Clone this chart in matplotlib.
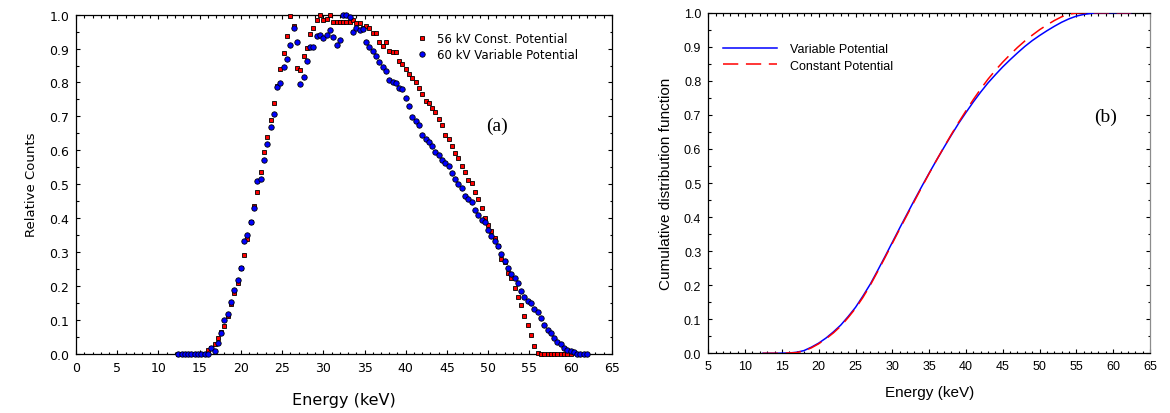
#!/usr/bin/env python3

import numpy as np
import matplotlib
matplotlib.use("Agg")
import matplotlib.pyplot as plt
from matplotlib.ticker import MultipleLocator, FormatStrFormatter


# =========================
# Data
# =========================
# detector bins, 0.4 keV wide
energy_var = np.round(np.arange(12.4, 62.01, 0.4), 1)
energy_const = np.round(np.arange(12.4, 60.01, 0.4), 1)

counts_var = [
    0, 0, 0, 0, 0, 0, 0, 0, 0,
    0.0, 0.017, 0.008, 0.032, 0.062, 0.098, 0.116, 0.152, 0.188, 0.217,
    0.254, 0.333, 0.349, 0.389, 0.430, 0.510, 0.516, 0.571, 0.618, 0.670,
    0.708, 0.786, 0.798, 0.846, 0.869, 0.911, 0.960, 0.918, 0.796, 0.815,
    0.863, 0.904, 0.904, 0.938, 0.940, 0.930, 0.941, 0.956, 0.933, 0.911,
    0.925, 0.998, 0.999, 0.992, 0.950, 0.961, 0.956, 0.958, 0.920, 0.904,
    0.894, 0.879, 0.861, 0.845, 0.835, 0.806, 0.801, 0.798, 0.785, 0.780,
    0.753, 0.732, 0.697, 0.687, 0.675, 0.645, 0.633, 0.625, 0.612, 0.595,
    0.587, 0.571, 0.564, 0.553, 0.533, 0.515, 0.501, 0.489, 0.466, 0.456,
    0.448, 0.425, 0.409, 0.395, 0.388, 0.366, 0.346, 0.332, 0.317, 0.295,
    0.274, 0.252, 0.235, 0.222, 0.209, 0.184, 0.167, 0.155, 0.149, 0.132,
    0.124, 0.105, 0.086, 0.070, 0.060, 0.045, 0.034, 0.029, 0.016, 0.012,
    0.009, 0.004, 0, 0, 0, 0,
]

counts_const = [
    0, 0, 0, 0, 0, 0, 0, 0, 0,
    0.010, 0.018, 0.028, 0.045, 0.065, 0.082, 0.112, 0.146, 0.178, 0.208,
    0.254, 0.292, 0.338, 0.389, 0.436, 0.478, 0.536, 0.594, 0.640, 0.689,
    0.740, 0.790, 0.839, 0.886, 0.938, 0.995, 0.966, 0.844, 0.836, 0.879,
    0.901, 0.942, 0.960, 0.984, 0.998, 0.983, 0.987, 0.998, 0.979, 0.978,
    0.979, 0.978, 0.978, 0.979, 0.983, 0.975, 0.975, 0.961, 0.966, 0.962,
    0.945, 0.945, 0.919, 0.907, 0.919, 0.894, 0.889, 0.889, 0.863, 0.854,
    0.840, 0.826, 0.812, 0.801, 0.784, 0.766, 0.745, 0.739, 0.724, 0.712,
    0.691, 0.675, 0.645, 0.633, 0.613, 0.592, 0.576, 0.553, 0.535, 0.513,
    0.503, 0.476, 0.456, 0.429, 0.400, 0.380, 0.363, 0.340, 0.317, 0.279,
    0.271, 0.238, 0.222, 0.193, 0.166, 0.143, 0.110, 0.084, 0.056, 0.022,
    0.003, 0, 0, 0, 0, 0, 0, 0, 0, 0, 0,
]

cdf_energy = [12.4, 14, 16, 17, 18, 19, 20, 21, 22, 23, 24, 25, 26, 27, 28,
              29, 30, 31, 32, 33, 34, 35, 36, 37, 38, 39, 40, 41, 42, 43,
              44, 45, 46, 47, 48, 49, 50, 51, 52, 53, 54, 55, 56, 57, 58, 62.4]

cdf_var = [0, 0, 0.001, 0.003, 0.008, 0.018, 0.030, 0.045, 0.063, 0.083,
           0.108, 0.135, 0.168, 0.203, 0.243, 0.284, 0.326, 0.368, 0.409,
           0.450, 0.490, 0.529, 0.567, 0.604, 0.640, 0.675, 0.707, 0.738,
           0.767, 0.794, 0.818, 0.841, 0.862, 0.882, 0.901, 0.918, 0.933,
           0.947, 0.960, 0.972, 0.982, 0.990, 0.995, 0.998, 1.0, 1.0]

cdf_const = [0, 0, 0.001, 0.002, 0.007, 0.016, 0.028, 0.043, 0.060, 0.080,
             0.105, 0.132, 0.164, 0.200, 0.240, 0.281, 0.323, 0.365, 0.406,
             0.447, 0.488, 0.528, 0.567, 0.605, 0.642, 0.678, 0.712, 0.745,
             0.776, 0.805, 0.831, 0.855, 0.877, 0.898, 0.917, 0.934, 0.950,
             0.964, 0.977, 0.988, 0.996, 0.999, 1.0, 1.0, 1.0, 1.0]


# =========================
# Helpers
# =========================
def style_axes(ax, xmin, xmax, family, tick_size):
    ax.set_xlim(xmin, xmax)
    ax.set_ylim(0, 1.0)
    ax.xaxis.set_major_locator(MultipleLocator(5))
    ax.xaxis.set_minor_locator(MultipleLocator(1))
    ax.yaxis.set_major_locator(MultipleLocator(0.1))
    ax.yaxis.set_minor_locator(MultipleLocator(0.05))
    ax.yaxis.set_major_formatter(FormatStrFormatter("%.1f"))
    ax.tick_params(which="both", direction="in", top=True, right=True,
                   width=0.8, labelsize=tick_size)
    ax.tick_params(which="major", length=3.2, pad=5)
    ax.tick_params(which="minor", length=1.8)
    for lab in ax.get_xticklabels() + ax.get_yticklabels():
        lab.set_fontfamily(family)
    for sp in ax.spines.values():
        sp.set_linewidth(0.9)


# =========================
# Main
# =========================
def main():
    plt.rcParams["font.family"] = ["Liberation Sans", "DejaVu Sans"]

    fig = plt.figure(figsize=(11.7, 4.14), dpi=100)
    ax_a = fig.add_axes([0.0650, 0.1432, 0.4579, 0.8189])
    ax_b = fig.add_axes([0.6054, 0.1442, 0.3775, 0.8227])

    # (a) spectra
    ax_a.plot(energy_const, counts_const, ls="none", marker="s", ms=3.5,
              mfc="#ff0000", mec="black", mew=0.6,
              label="56 kV Const. Potential", clip_on=False, zorder=3)
    ax_a.plot(energy_var, counts_var, ls="none", marker="o", ms=3.9,
              mfc="#0000ff", mec="black", mew=0.6,
              label="60 kV Variable Potential", clip_on=False, zorder=4)
    style_axes(ax_a, 0, 65, "DejaVu Sans", 9)
    ax_a.set_xlabel("Energy (keV)", family="DejaVu Sans", fontsize=11.5,
                    labelpad=13)
    ax_a.set_ylabel("Relative Counts", family="DejaVu Sans", fontsize=9.5,
                    labelpad=8)
    ax_a.legend(loc="upper left", bbox_to_anchor=(0.635, 0.95),
                frameon=False, handlelength=1.0, handletextpad=0.8,
                labelspacing=0.3, borderpad=0, borderaxespad=0,
                prop={"family": "DejaVu Sans", "size": 8.5})
    ax_a.text(0.786, 0.675, "(a)", transform=ax_a.transAxes, ha="center",
              va="center", family="Liberation Serif", fontsize=14)

    # (b) cumulative distributions
    ax_b.plot(cdf_energy, cdf_var, color="#0000ff", lw=1.1,
              label="Variable Potential", zorder=3)
    ax_b.plot(cdf_energy, cdf_const, color="#ff0000", lw=1.1,
              ls=(0, (10, 5)), label="Constant Potential", zorder=4)
    style_axes(ax_b, 5, 65, "Liberation Sans", 9)
    ax_b.spines["right"].set_color("0.55")
    ax_b.set_xlabel("Energy (keV)", fontsize=11, labelpad=9)
    ax_b.set_ylabel("Cumulative distribution function", fontsize=11,
                    labelpad=8)
    ax_b.legend(loc="upper left", bbox_to_anchor=(0.033, 0.91),
                frameon=False, handlelength=4.3, handletextpad=1.1,
                labelspacing=0.35, borderpad=0, borderaxespad=0,
                prop={"family": "Liberation Sans", "size": 9})
    ax_b.text(0.900, 0.697, "(b)", transform=ax_b.transAxes, ha="center",
              va="center", family="Liberation Serif", fontsize=14)

    fig.savefig("out.png", dpi=100)
    plt.close(fig)


if __name__ == "__main__":
    main()
